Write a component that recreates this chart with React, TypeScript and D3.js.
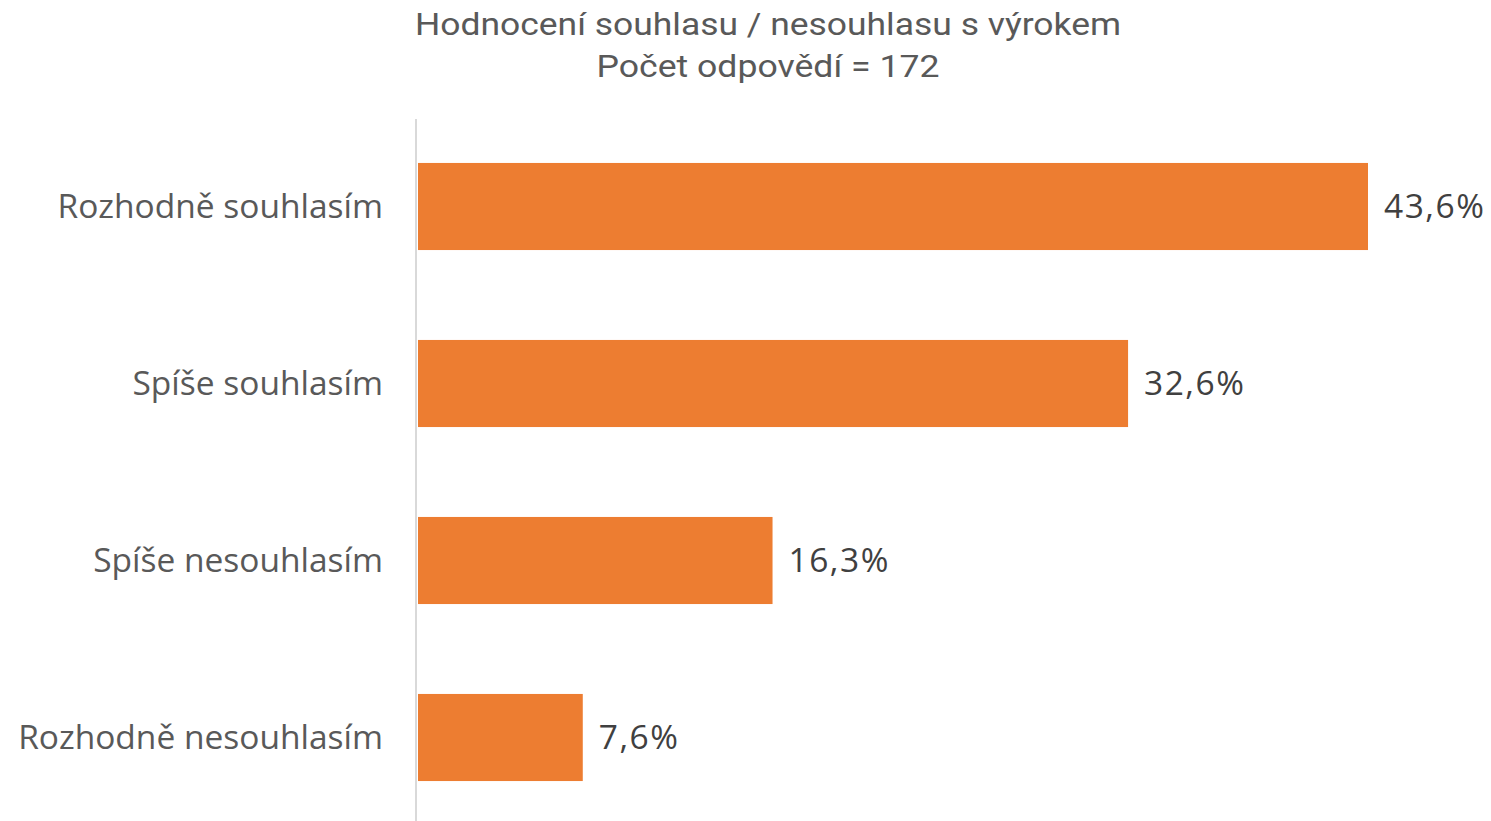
import React from "react";
import * as d3 from "d3";

const categories = ["Rozhodně souhlasím", "Spíše souhlasím", "Spíše nesouhlasím", "Rozhodně nesouhlasím"];
const values = [43.6, 32.6, 16.3, 7.6];
const titleLines = ["Hodnocení souhlasu / nesouhlasu s výrokem", "Počet odpovědí = 172"];

export default function App() {
  const W = 1491, H = 821;
  const x0 = 417;
  const x = d3.scaleLinear().domain([0, 43.6]).range([x0, 1368]);
  const y = d3.scaleBand<string>().domain(categories).range([118, 826]).paddingInner(0.508).paddingOuter(0.254);
  const fmt = (v: number) => v.toFixed(1).replace(".", ",") + "%";
  const font = "'Open Sans', Roboto, sans-serif";
  return (
    <svg width={W} height={H} style={{ position: "absolute", left: 0, top: 0, background: "#fff" }} fontFamily={font}>
      <text x={768} y={35} textAnchor="middle" fontSize={31} fontFamily="Roboto, sans-serif" fill="#595959" textLength={706} lengthAdjust="spacingAndGlyphs">{titleLines[0]}</text>
      <text x={768} y={77} textAnchor="middle" fontSize={31} fontFamily="Roboto, sans-serif" fill="#595959" textLength={343} lengthAdjust="spacingAndGlyphs">{titleLines[1]}</text>
      {categories.map((c, i) => (
        <g key={c}>
          <rect x={x(0) + 1} y={y(c)!} width={x(values[i]) - x(0) - 1} height={y.bandwidth()} fill="#ED7D31" />
          <text x={383} y={y(c)! + y.bandwidth() / 2} dy="0.35em" textAnchor="end" fontSize={33.5} fill="#595959">{c}</text>
          <text x={x(values[i]) + 16} y={y(c)! + y.bandwidth() / 2} dy="0.35em" textAnchor="start" fontSize={33.5} fill="#404040" letterSpacing={1.5}>{fmt(values[i])}</text>
        </g>
      ))}
      <line x1={x0 - 1} x2={x0 - 1} y1={119} y2={H} stroke="#d9d9d9" strokeWidth={2} />
    </svg>
  );
}
